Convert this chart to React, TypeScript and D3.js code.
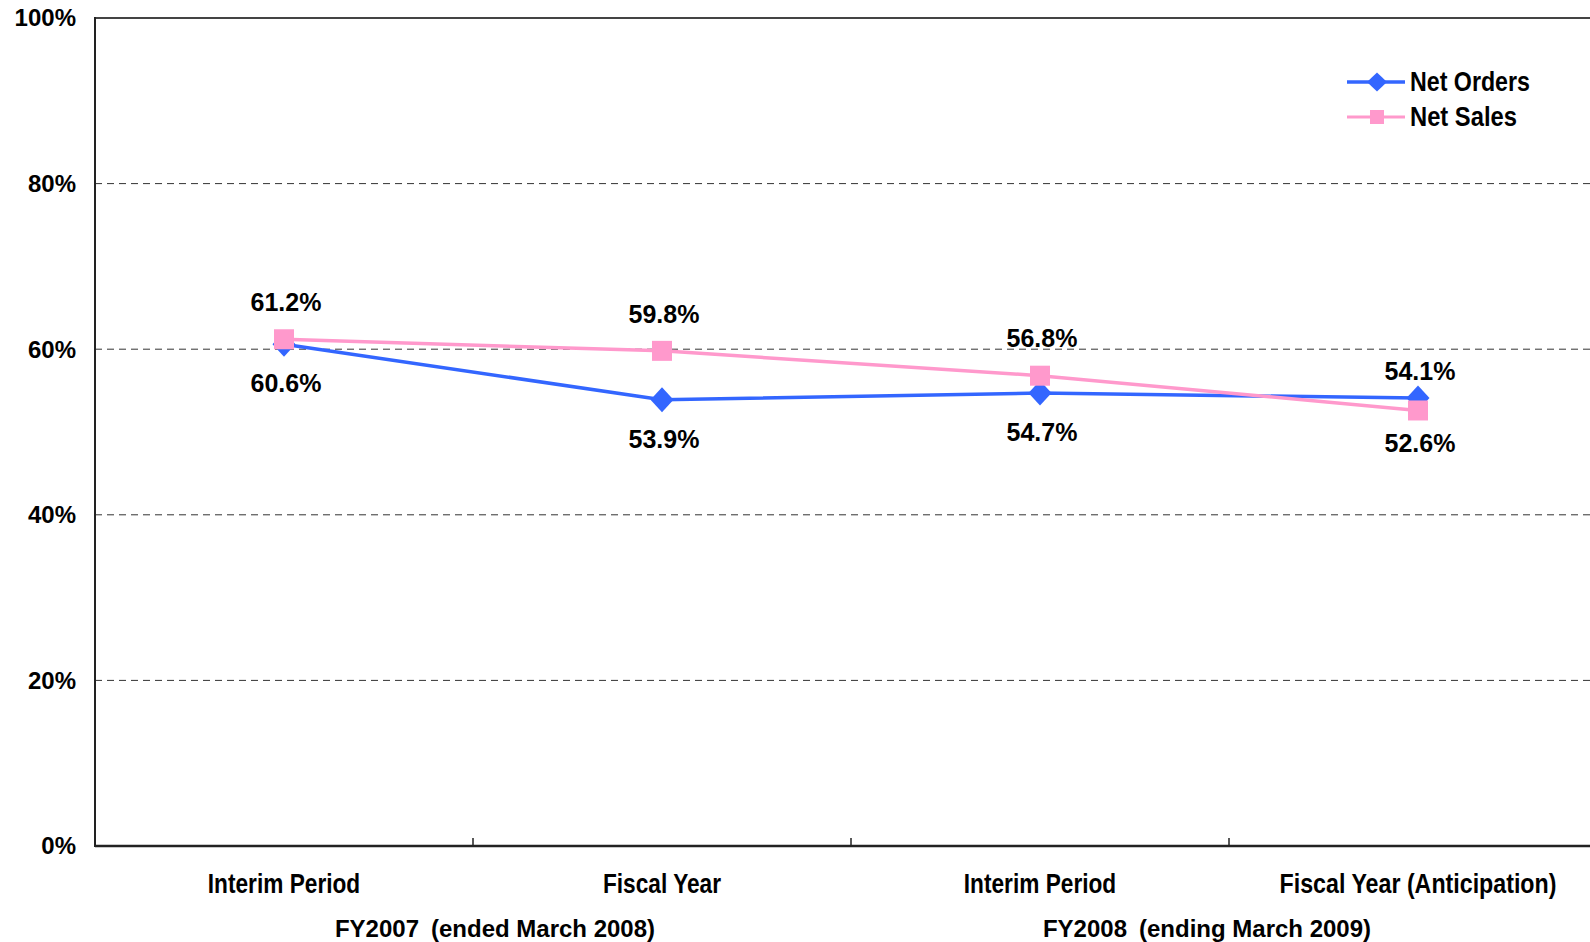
import React from "react";
import * as d3 from "d3";

const categories = ["Interim Period", "Fiscal Year", "Interim Period", "Fiscal Year (Anticipation)"];
const groups = ["FY2007\u2002(ended March 2008)", "FY2008\u2002(ending March 2009)"];
const netOrders = [60.6, 53.9, 54.7, 54.1];
const netSales = [61.2, 59.8, 56.8, 52.6];
const ordersLabelSide = ["below", "below", "below", "above"];
const salesLabelSide = ["above", "above", "above", "below"];
const yTicks = [0, 20, 40, 60, 80, 100];

const W = 1590;
const H = 942;
const LEFT = 95;
const TOP = 18;
const BOTTOM = 846;
const BAND = 378;

const BLUE = "#3366FF";
const PINK = "#FF99CC";
const SANS = "'Liberation Sans', Arial, sans-serif";

export default function App() {
  const x = d3
    .scaleBand<number>()
    .domain(d3.range(categories.length))
    .range([LEFT, LEFT + BAND * categories.length])
    .padding(0);
  const y = d3.scaleLinear().domain([0, 100]).range([BOTTOM, TOP]);
  const cx = (i: number) => (x(i) as number) + x.bandwidth() / 2;

  const line = d3
    .line<number>()
    .x((_, i) => cx(i))
    .y((d) => y(d));

  const diamond = (px: number, py: number, hw: number, hh: number) =>
    `M${px},${py - hh}L${px + hw},${py}L${px},${py + hh}L${px - hw},${py}Z`;

  const groupShift = [22, -22];
  const right = LEFT + BAND * categories.length;

  return (
    <svg
      width={W}
      height={H}
      style={{ position: "absolute", left: 0, top: 0, background: "#fff" }}
    >
      <rect x={0} y={0} width={W} height={H} fill="#fff" />
      {/* gridlines */}
      {yTicks
        .filter((t) => t > 0 && t < 100)
        .map((t) => (
          <line
            key={t}
            x1={LEFT}
            x2={right}
            y1={y(t)}
            y2={y(t)}
            stroke="#333"
            strokeWidth={1}
            strokeDasharray="7,5"
          />
        ))}
      {/* frame */}
      <line x1={LEFT} x2={right} y1={y(100)} y2={y(100)} stroke="#444" strokeWidth={2} />
      <line x1={LEFT} x2={LEFT} y1={y(100) - 1} y2={y(0) + 1} stroke="#222" strokeWidth={2} />
      <line x1={LEFT} x2={right} y1={y(0)} y2={y(0)} stroke="#222" strokeWidth={2.5} />
      {/* x ticks */}
      {d3.range(1, categories.length).map((i) => (
        <line
          key={i}
          x1={x(i) as number}
          x2={x(i) as number}
          y1={y(0)}
          y2={y(0) - 8}
          stroke="#222"
          strokeWidth={1.5}
        />
      ))}
      {/* y tick labels */}
      {yTicks.map((t) => (
        <text
          key={t}
          x={76}
          y={y(t)}
          dy="0.35em"
          textAnchor="end"
          fontFamily={SANS}
          fontWeight="bold"
          fontSize={24}
          fill="#000"
        >
          {t}%
        </text>
      ))}
      {/* category labels */}
      {categories.map((c, i) => (
        <g key={i} transform={`translate(${cx(i)},${883.5}) scale(${i === 3 ? 0.86 : 0.84},1)`}>
          <text
            x={0}
            y={0}
            dy="0.35em"
            textAnchor="middle"
            fontFamily={SANS}
            fontWeight="bold"
            fontSize={27}
            fill="#000"
          >
            {c}
          </text>
        </g>
      ))}
      {groups.map((g, gi) => (
        <text
          key={gi}
          x={(x(gi * 2) as number) + x.bandwidth() + groupShift[gi]}
          y={929}
          dy="0.35em"
          textAnchor="middle"
          fontFamily={SANS}
          fontWeight="bold"
          fontSize={24}
          fill="#000"
        >
          {g}
        </text>
      ))}
      {/* lines */}
      <path d={line(netOrders) || ""} fill="none" stroke={BLUE} strokeWidth={3.5} />
      <path d={line(netSales) || ""} fill="none" stroke={PINK} strokeWidth={3.5} />
      {/* markers */}
      {netOrders.map((v, i) => (
        <path key={"o" + i} d={diamond(cx(i), y(v), 11.5, 12.5)} fill={BLUE} />
      ))}
      {netSales.map((v, i) => (
        <rect key={"s" + i} x={cx(i) - 10} y={y(v) - 10} width={20} height={20} fill={PINK} />
      ))}
      {/* data labels */}
      {netOrders.map((v, i) => (
        <text
          key={"ol" + i}
          x={cx(i) + 2}
          y={y(v) + (ordersLabelSide[i] === "above" ? -27 : 39.5)}
          dy="0.35em"
          textAnchor="middle"
          fontFamily={SANS}
          fontWeight="bold"
          fontSize={25}
          fill="#000"
        >
          {v.toFixed(1)}%
        </text>
      ))}
      {netSales.map((v, i) => (
        <text
          key={"sl" + i}
          x={cx(i) + 2}
          y={y(v) + (salesLabelSide[i] === "above" ? -37 : 33)}
          dy="0.35em"
          textAnchor="middle"
          fontFamily={SANS}
          fontWeight="bold"
          fontSize={25}
          fill="#000"
        >
          {v.toFixed(1)}%
        </text>
      ))}
      {/* legend */}
      <g>
        <line x1={1347} x2={1405} y1={82} y2={82} stroke={BLUE} strokeWidth={3.5} />
        <path d={diamond(1377, 82, 10, 9.5)} fill={BLUE} />
        <g transform="translate(1410,82) scale(0.86,1)">
          <text x={0} y={0} dy="0.35em" fontFamily={SANS} fontWeight="bold" fontSize={27} fill="#000">
            Net Orders
          </text>
        </g>
        <line x1={1347} x2={1405} y1={117} y2={117} stroke={PINK} strokeWidth={3} />
        <rect x={1370} y={110} width={14} height={14} fill={PINK} />
        <g transform="translate(1410,117) scale(0.88,1)">
          <text x={0} y={0} dy="0.35em" fontFamily={SANS} fontWeight="bold" fontSize={27} fill="#000">
            Net Sales
          </text>
        </g>
      </g>
    </svg>
  );
}
